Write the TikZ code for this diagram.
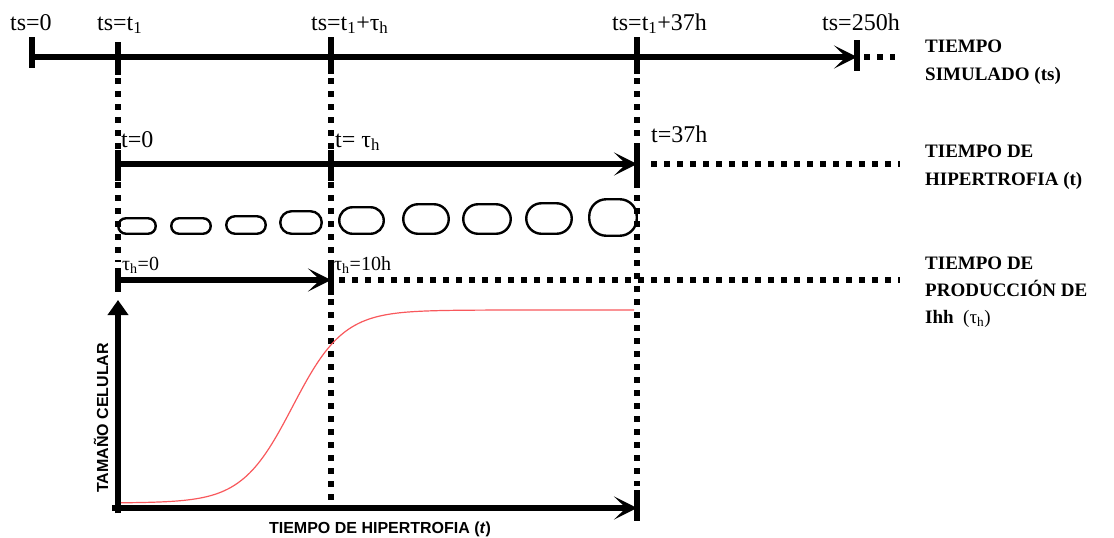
\documentclass[tikz,border=0pt]{standalone}
\usepackage{fontspec}
\setmainfont{Liberation Serif}
\setsansfont{Liberation Sans}
\usetikzlibrary{arrows.meta}
\definecolor{curvered}{RGB}{248,88,92}
\begin{document}
\begin{tikzpicture}[x=1pt,y=-1pt,
  timeline/.style={line width=6.5pt,
    -{Stealth[length=23pt,width=23pt,inset=12pt]}},
  tickmark/.style={line width=6pt},
  guide/.style={line width=6pt, dash pattern=on 6pt off 7pt},
  mark label/.style={font=\fontsize{24}{26}\selectfont, inner sep=0pt, anchor=base west},
  small label/.style={font=\fontsize{20}{22}\selectfont, inner sep=0pt, anchor=base west},
  axis name/.style={font=\fontsize{19}{22}\selectfont\bfseries, inner sep=0pt, anchor=base west},
  axis title/.style={font=\sffamily\bfseries\fontsize{16}{18}\selectfont, inner sep=0pt},
  cell/.style={draw, line width=2.4pt, inner sep=0pt}
]
\useasboundingbox (0,0) rectangle (1114,538);

% time marks of the three scales
\coordinate (S0) at (32,57);
\coordinate (S1) at (118,57);
\coordinate (S2) at (331,57);
\coordinate (S3) at (637,57);
\coordinate (S4) at (857,57);
\coordinate (S5) at (895,57);
\coordinate (H0) at (118,164);
\coordinate (H1) at (331,164);
\coordinate (H2) at (637,164);
\coordinate (H3) at (900,164);
\coordinate (P0) at (118,280);
\coordinate (P1) at (331,280);
\coordinate (P2) at (900,280);
% plot frame
\coordinate (O) at (118,508);
\coordinate (Ytop) at (118,300);
\coordinate (Xend) at (637,508);

% vertical guides linking the scales
\draw[guide] (118,78) -- (118,262);
\draw[guide] (331,78) -- (331,500);
\draw[guide] (637,78) -- (637,486);

% tick marks
\draw[tickmark] (32,37) -- (32,68);
\draw[tickmark] (118,42) -- (118,75);
\draw[tickmark] (331,37) -- (331,74);
\draw[tickmark] (637,37) -- (637,74);
\draw[tickmark] (857,40) -- (857,71);
\draw[tickmark] (118,150) -- (118,181);
\draw[tickmark] (331,150) -- (331,181);
\draw[tickmark] (637,148) -- (637,183);
\draw[tickmark] (118,268) -- (118,292);
\draw[tickmark] (331,263) -- (331,295);
\draw[tickmark] (637,490) -- (637,521);

% simulated time
\draw[timeline] (29,57) -- (S4);
\draw[guide] ([xshift=7pt]S4) -- (S5);

\node[mark label] (ls0) at (10,30) {ts=0};
\node[mark label] (ls1) at (97,30) {ts=t\textsubscript{1}};
\node[mark label] (ls2) at (311,30) {ts=t\textsubscript{1}+τ\textsubscript{h}};
\node[mark label] (ls3) at (612,30) {ts=t\textsubscript{1}+37h};
\node[mark label] (ls4) at (822,30) {ts=250h};

% hypertrophy time
\draw[timeline] (H0) -- (H2);
\draw[guide] ([xshift=14pt]H2) -- (H3);

\node[mark label] (lh0) at (121,147) {t=0};
\node[mark label] (lh1) at (335,147) {t= τ\textsubscript{h}};
\node[mark label] (lh2) at (651,142) {t=37h};

% growing cells
\node[cell, minimum width=37.5pt, minimum height=15.5pt, rounded corners=7.7pt] (c1) at (137,226) {};
\node[cell, minimum width=39.5pt, minimum height=15.5pt, rounded corners=7.7pt] (c2) at (191,226) {};
\node[cell, minimum width=39.5pt, minimum height=17.5pt, rounded corners=8.7pt] (c3) at (246,225) {};
\node[cell, minimum width=41.5pt, minimum height=22.5pt, rounded corners=11.2pt] (c4) at (301,222.5) {};
\node[cell, minimum width=44.5pt, minimum height=26.5pt, rounded corners=13.2pt] (c5) at (361.5,220.5) {};
\node[cell, minimum width=45.5pt, minimum height=29.5pt, rounded corners=14.7pt] (c6) at (426,219) {};
\node[cell, minimum width=47.5pt, minimum height=29.5pt, rounded corners=14.7pt] (c7) at (487,219) {};
\node[cell, minimum width=45.5pt, minimum height=30.5pt, rounded corners=15.2pt] (c8) at (549,218.5) {};
\node[cell, minimum width=47.5pt, minimum height=36.5pt, rounded corners=17pt] (c9) at (613,217.5) {};

% Ihh production time
\draw[timeline] (P0) -- (P1);
\draw[guide] ([xshift=8pt]P1) -- (P2);

\node[small label] (lp0) at (122,270) {τ\textsubscript{h}=0};
\node[small label] (lp1) at (334,270) {τ\textsubscript{h}=10h};

% scale names
\node[axis name] (n1a) at (925,52) {TIEMPO};
\node[axis name] (n1b) at (925,80) {SIMULADO (ts)};
\node[axis name] (n2a) at (925,157) {TIEMPO DE};
\node[axis name] (n2b) at (925,185) {HIPERTROFIA (t)};
\node[axis name] (n3a) at (925,269) {TIEMPO DE};
\node[axis name] (n3b) at (925,296) {PRODUCCIÓN DE};
\node[axis name] (n3c) at (925,323) {Ihh\ \ \mdseries(τ\textsubscript{h})};

% cell size plot
\draw[line width=6.5pt, -{Triangle[length=15pt,width=20pt]}] (118,513) -- (Ytop);
\draw[timeline] (112,508) -- (Xend);
\draw[curvered, line width=1.2pt] plot[domain=121:634, samples=150, smooth]
  (\x, {503 - 193/(1+exp(-(\x-292.6)/25.4))});

\node[axis title, anchor=base] (xt) at (380,533) {TIEMPO DE HIPERTROFIA (\textit{t})};
\node[axis title, rotate=90] (yt) at (101,418) {TAMAÑO CELULAR};
\end{tikzpicture}
\end{document}
